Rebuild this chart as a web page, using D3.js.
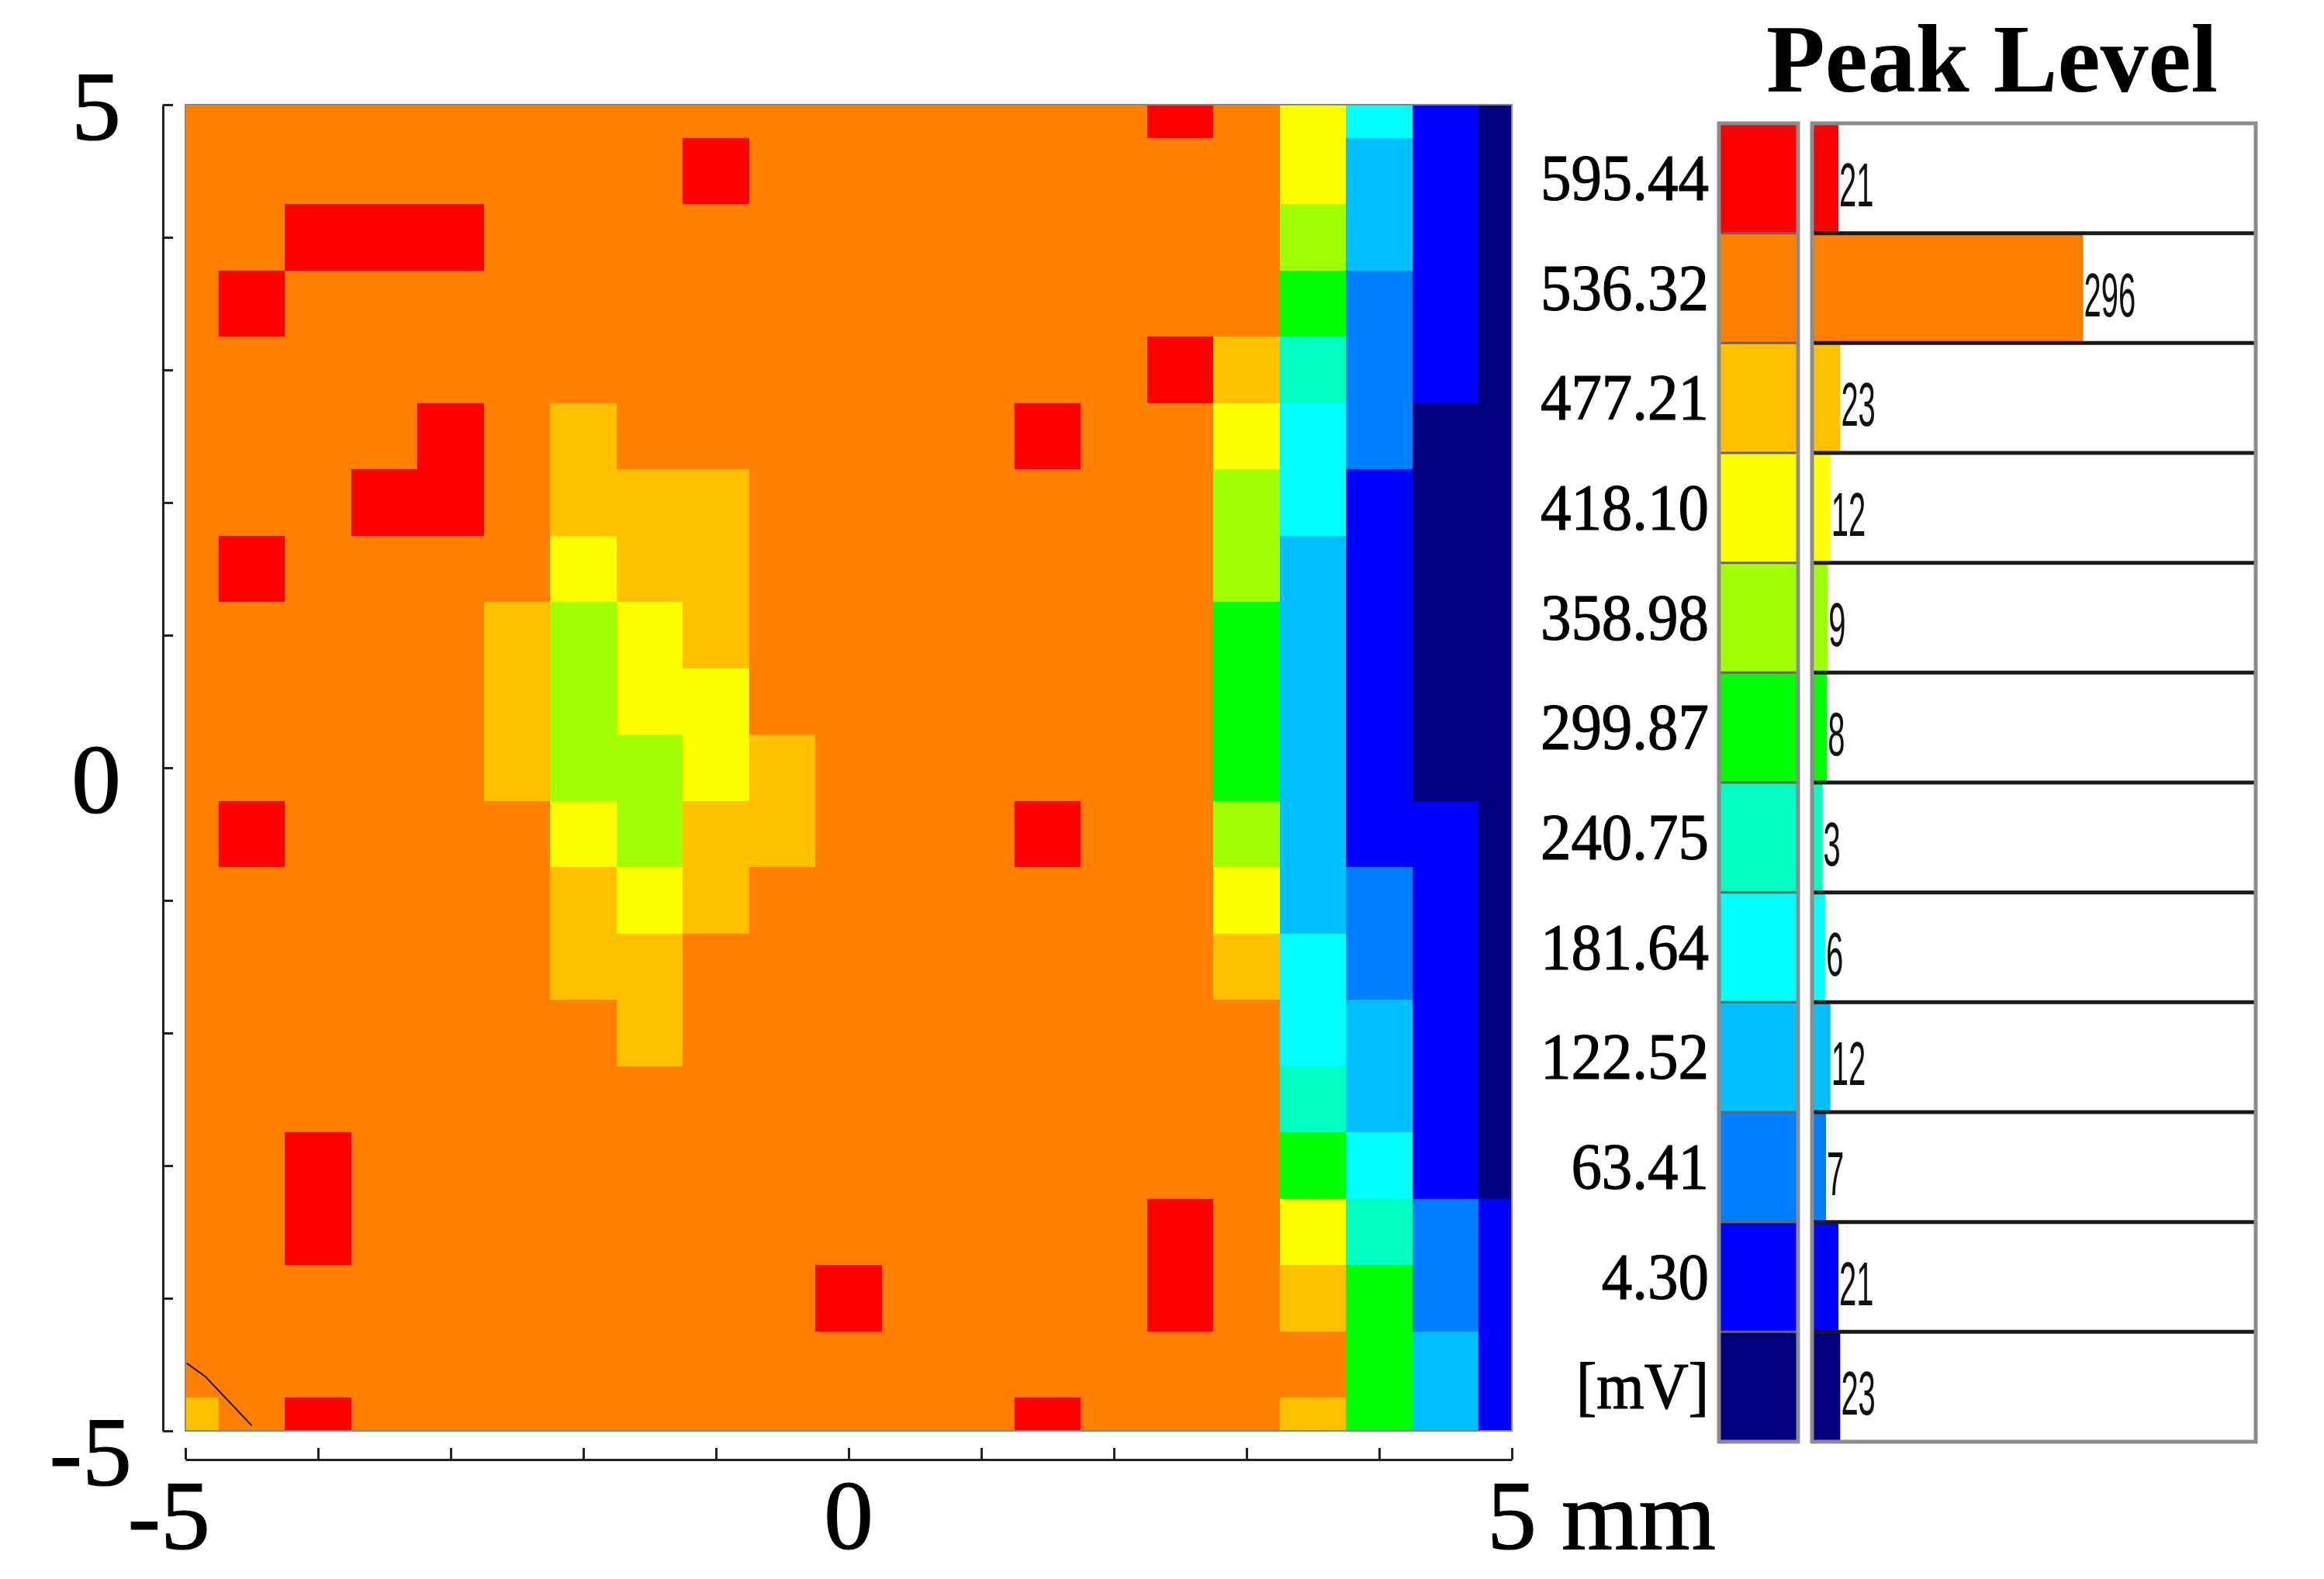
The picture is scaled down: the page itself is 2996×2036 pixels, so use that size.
<!DOCTYPE html>
<html>
<head>
<meta charset="utf-8">
<title>Peak Level map</title>
<script src="https://cdn.jsdelivr.net/npm/d3@7"></script>
<style>
  html, body { margin: 0; padding: 0; background: #fff; }
  svg { display: block; }
  .serif { font-family: "Liberation Serif", "Times New Roman", serif; fill: #000; }
  .heavy { stroke: #000; stroke-width: 1.2px; }
  .count { font-family: "Liberation Sans", Arial, sans-serif; fill: #111; }
  .axis path, .axis line { stroke: #222; stroke-width: 3; }
</style>
</head>
<body>
<svg id="chart"></svg>
<script>
(function () {
  "use strict";

  // legend levels, top to bottom
  const levelLabels = ["595.44", "536.32", "477.21", "418.10", "358.98", "299.87",
    "240.75", "181.64", "122.52", "63.41", "4.30", "[mV]"];
  const levelColors = ["#ff0000", "#ff8000", "#ffc000", "#ffff00", "#a0ff00", "#00ff00",
    "#00ffc0", "#00ffff", "#00c0ff", "#0080ff", "#0000ff", "#000080"];
  const levelCounts = [21, 296, 23, 12, 9, 8, 3, 6, 12, 7, 21, 23];

  // 21 x 21 samples, y = 5 mm at top, x = -5 mm at left; one hex digit = level index above
  const gridRows = [
    "1111111111111110137ab",
    "1111111101111111138ab",
    "1100011111111111148ab",
    "1011111111111111159ab",
    "1111111111111110269ab",
    "1111012111111011379bb",
    "111001222111111147abb",
    "101111322111111148abb",
    "111112432111111158abb",
    "111112433111111158abb",
    "111112443211111158abb",
    "101111342211101148aab",
    "1111112321111111389ab",
    "1111112211111111279ab",
    "1111111211111111178ab",
    "1111111111111111168ab",
    "1101111111111111157ab",
    "11011111111111101369a",
    "11111111110111101259a",
    "11111111111111111158a",
    "21011111111110111258a"
  ];
  const gridStep = 0.5;
  const gridExtent = [-5, 5];

  const axisTicks = [-5, -4, -3, -2, -1, 0, 1, 2, 3, 4, 5];
  const yTickLabels = [{ v: 5, t: "5" }, { v: 0, t: "0" }, { v: -5, t: "-5" }];
  const xTickLabels = [{ v: -5, t: "-5" }, { v: 0, t: "0" }, { v: 5, t: "5 mm" }];

  // stray trace in the lower-left corner (mm)
  const traceLine = [[-4.99, -4.49], [-4.85, -4.59], [-4.5, -4.96]];

  const W = 2996, H = 2036;
  const plot = { left: 239, right: 1949, top: 135, bottom: 1845 };
  const legend = { swX0: 2216, swX1: 2318, barX0: 2336, barX1: 2908, top: 159, bottom: 1859, labelX: 2203 };

  const svg = d3.select("#chart").attr("width", W).attr("height", H);
  svg.append("rect").attr("width", W).attr("height", H).attr("fill", "#fff");

  const x = d3.scaleLinear().domain(gridExtent).range([plot.left, plot.right]);
  const y = d3.scaleLinear().domain(gridExtent).range([plot.bottom, plot.top]);
  const clamp = v => Math.max(gridExtent[0], Math.min(gridExtent[1], v));

  const cells = [];
  gridRows.forEach((row, r) => {
    row.split("").forEach((ch, c) => {
      cells.push({
        cx: gridExtent[0] + c * gridStep,
        cy: gridExtent[1] - r * gridStep,
        level: parseInt(ch, 16)
      });
    });
  });

  const map = svg.append("g").attr("shape-rendering", "crispEdges");
  map.selectAll("rect.cell")
    .data(cells)
    .join("rect")
    .attr("class", "cell")
    .attr("x", d => x(clamp(d.cx - gridStep / 2)))
    .attr("y", d => y(clamp(d.cy + gridStep / 2)))
    .attr("width", d => x(clamp(d.cx + gridStep / 2)) - x(clamp(d.cx - gridStep / 2)))
    .attr("height", d => y(clamp(d.cy - gridStep / 2)) - y(clamp(d.cy + gridStep / 2)))
    .attr("fill", d => levelColors[d.level]);

  svg.append("rect")
    .attr("x", x(-5)).attr("y", y(5))
    .attr("width", x(5) - x(-5)).attr("height", y(-5) - y(5))
    .attr("fill", "none").attr("stroke", "#8a8a8a").attr("stroke-width", 2);

  svg.append("path")
    .datum(traceLine)
    .attr("d", d3.line().x(d => x(d[0])).y(d => y(d[1])))
    .attr("fill", "none")
    .attr("stroke", "#111")
    .attr("stroke-width", 2);

  // axes: detached lines with ticks pointing toward the map
  svg.append("g")
    .attr("class", "axis")
    .attr("transform", "translate(210,0)")
    .call(d3.axisRight(y).tickValues(axisTicks).tickSize(13).tickSizeOuter(0).tickFormat(""));

  svg.append("g")
    .attr("class", "axis")
    .attr("transform", "translate(0,1882)")
    .call(d3.axisTop(x).tickValues(axisTicks).tickSize(15).tickSizeOuter(0).tickFormat(""));

  const yLabelPos = d3.scaleLinear().domain([5, -5]).range([180, 1915]);
  svg.selectAll("text.ylab")
    .data(yTickLabels)
    .join("text")
    .attr("class", "serif heavy ylab")
    .attr("x", d => d.v < 0 ? 170 : 156)
    .attr("y", d => yLabelPos(d.v))
    .attr("text-anchor", "end")
    .style("font-size", "128px")
    .text(d => d.t);

  svg.selectAll("text.xlab")
    .data(xTickLabels)
    .join("text")
    .attr("class", "serif heavy xlab")
    .attr("x", d => x(d.v) + (d.v < 0 ? 32 : d.v > 0 ? -32 : 0))
    .attr("y", 1997)
    .attr("text-anchor", d => d.v < 0 ? "end" : d.v > 0 ? "start" : "middle")
    .style("font-size", "128px")
    .text(d => d.t);

  // legend
  svg.append("text")
    .attr("class", "serif")
    .attr("x", 2568)
    .attr("y", 118)
    .attr("text-anchor", "middle")
    .style("font-size", "124px")
    .style("font-weight", "bold")
    .text("Peak Level");

  const band = d3.scaleBand()
    .domain(d3.range(levelLabels.length))
    .range([legend.top, legend.bottom]);
  const barX = d3.scaleLinear().domain([0, 490]).range([legend.barX0 + 10, legend.barX1]);

  const rows = svg.append("g")
    .selectAll("g")
    .data(levelLabels.map((label, i) => ({ label, color: levelColors[i], count: levelCounts[i], i })))
    .join("g")
    .attr("transform", d => `translate(0,${band(d.i)})`);

  rows.append("rect")
    .attr("x", legend.swX0)
    .attr("width", legend.swX1 - legend.swX0)
    .attr("height", band.bandwidth())
    .attr("fill", d => d.color);

  rows.append("rect")
    .attr("x", legend.barX0)
    .attr("width", legend.barX1 - legend.barX0)
    .attr("height", band.bandwidth())
    .attr("fill", "#fff");

  rows.append("rect")
    .attr("x", legend.barX0)
    .attr("width", d => barX(d.count) - legend.barX0)
    .attr("height", band.bandwidth())
    .attr("fill", d => d.color);

  rows.append("text")
    .attr("class", "serif heavy")
    .attr("transform", `translate(${legend.labelX},${band.bandwidth() / 2 + 28}) scale(0.94,1)`)
    .attr("text-anchor", "end")
    .style("font-size", "84px")
    .text(d => d.label);

  rows.append("text")
    .attr("class", "count")
    .attr("transform", d => `translate(${barX(d.count) + 1},${band.bandwidth() / 2 + 36}) scale(0.5,1)`)
    .style("font-size", "80px")
    .text(d => d.count);

  // row separators and frames
  const inner = d3.range(1, levelLabels.length);
  svg.selectAll("line.swsep")
    .data(inner)
    .join("line")
    .attr("x1", legend.swX0).attr("x2", legend.swX1)
    .attr("y1", d => band(d)).attr("y2", d => band(d))
    .attr("stroke", "#666").attr("stroke-width", 3);

  svg.selectAll("line.barsep")
    .data(inner)
    .join("line")
    .attr("x1", legend.barX0).attr("x2", legend.barX1)
    .attr("y1", d => band(d)).attr("y2", d => band(d))
    .attr("stroke", "#1a1a1a").attr("stroke-width", 5);

  [[legend.swX0, legend.swX1], [legend.barX0, legend.barX1]].forEach(([a, b]) => {
    svg.append("rect")
      .attr("x", a).attr("y", legend.top)
      .attr("width", b - a).attr("height", legend.bottom - legend.top)
      .attr("fill", "none").attr("stroke", "#8c8c8c").attr("stroke-width", 5);
  });
})();
</script>
</body>
</html>
